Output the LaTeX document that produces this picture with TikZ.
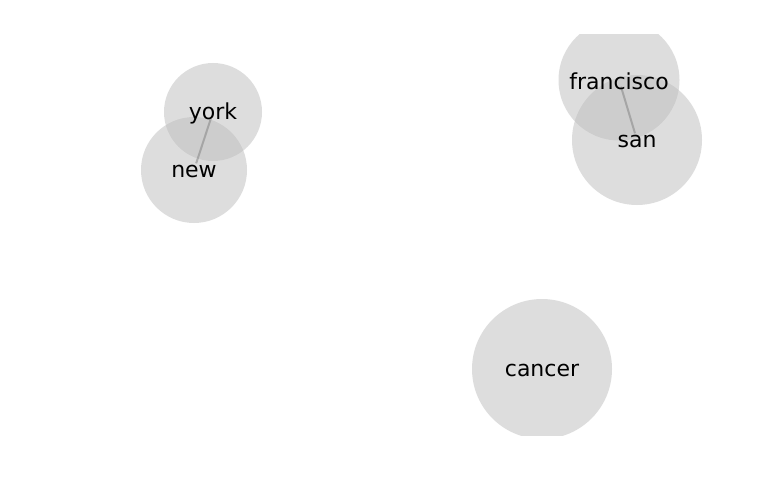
\documentclass[tikz,border=0pt]{standalone}
\usepackage{fontspec}
\setmainfont{DejaVu Sans}
\definecolor{nodefill}{RGB}{188,188,188}
\definecolor{edgecol}{RGB}{128,128,128}
\begin{document}
\begin{tikzpicture}[x=1pt,y=-1pt,
  bubble/.style={circle,inner sep=0pt,fill=nodefill,fill opacity=0.5,draw=none},
  link/.style={draw=edgecol,line width=2pt,opacity=0.5,shorten <=7pt,shorten >=7pt},
  word/.style={inner sep=0pt,text=black,yshift=-1.5pt,font=\fontsize{22}{26}\selectfont}]
\useasboundingbox (0,0) rectangle (768,500);
\begin{scope}
\clip (0,35) rectangle (768,435);
\node[bubble,minimum size=98pt]  (york)      at (213,112) {};
\node[bubble,minimum size=106pt] (new)       at (194,170) {};
\node[bubble,minimum size=121pt] (francisco) at (619,80)  {};
\node[bubble,minimum size=130pt] (san)       at (637,140) {};
\node[bubble,minimum size=140pt] (cancer)    at (542,369) {};
\draw[link] (york.center) -- (new.center);
\draw[link] (francisco.center) -- (san.center);
\end{scope}
\node[word] (yorkL)      at (york)      {york};
\node[word] (newL)       at (new)       {new};
\node[word] (franciscoL) at (francisco) {francisco};
\node[word] (sanL)       at (san)       {san};
\node[word] (cancerL)    at (cancer)    {cancer};
\end{tikzpicture}
\end{document}
